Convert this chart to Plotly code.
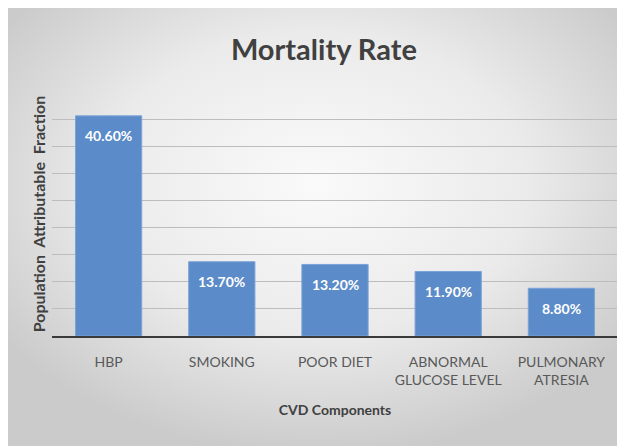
import base64
import plotly.graph_objects as go

categories = ["HBP", "SMOKING", "POOR DIET", "ABNORMAL<br>GLUCOSE LEVEL", "PULMONARY<br>ATRESIA"]
values = [40.6, 13.7, 13.2, 11.9, 8.8]
labels = ["40.60%", "13.70%", "13.20%", "11.90%", "8.80%"]

# page body has an 8px margin, so the figure is made slightly smaller
W, H = 617, 438
ML, MR, MT, MB = 44, 7, 84, 110
pw = W - ML - MR
ph = H - MT - MB

# background radial gradient (Excel-like)
svg = (
    '<svg xmlns="http://www.w3.org/2000/svg" width="617" height="438" preserveAspectRatio="none">'
    '<defs><radialGradient id="g" cx="50%" cy="40%" r="62%">'
    '<stop offset="0" stop-color="#fafafa"/>'
    '<stop offset="0.55" stop-color="#ebebeb"/>'
    '<stop offset="1" stop-color="#cbcbcb"/>'
    '</radialGradient></defs>'
    '<rect width="617" height="438" fill="url(#g)"/></svg>'
)
src = "data:image/svg+xml;base64," + base64.b64encode(svg.encode()).decode()

img = dict(
    source=src, xref="paper", yref="paper",
    x=-ML / pw, y=(H - MB) / ph,
    sizex=W / pw, sizey=H / ph,
    xanchor="left", yanchor="top", sizing="stretch", layer="below",
)

fig = go.Figure(
    go.Bar(
        x=categories, y=values,
        marker=dict(color="#5B8BC8", line=dict(color="#7aa3d6", width=1)),
        hoverinfo="skip",
    )
)

for c, v, t in zip(categories, values, labels):
    fig.add_annotation(
        x=c, y=v, text=t, showarrow=False, yanchor="middle", yshift=-20,
        font=dict(family="Lato", size=14, color="white", weight="bold"),
    )

fig.update_layout(
    width=W, height=H,
    margin=dict(l=ML, r=MR, t=MT, b=MB),
    paper_bgcolor="#dedede",
    plot_bgcolor="rgba(0,0,0,0)",
    images=[img],
    bargap=0.415,
    showlegend=False,
    title=dict(
        text="<b>Mortality Rate</b>", x=0.512, xanchor="center", y=1 - 42 / H, yanchor="middle",
        font=dict(family="Lato", size=29, color="#404040"),
    ),
    xaxis=dict(
        showgrid=False, showline=True, linecolor="#3a3a3a", linewidth=2,
        ticks="outside", ticklen=12, tickcolor="rgba(0,0,0,0)",
        tickfont=dict(family="Lato", size=14, color="#595959"),
        title=dict(text="<b>CVD Components</b>", standoff=18,
                   font=dict(family="Lato", size=14, color="#404040")),
    ),
    yaxis=dict(
        range=[0, 45], dtick=5, showticklabels=False, showgrid=True,
        gridcolor="#bdbdbd", gridwidth=1, zeroline=False,
        title=dict(text="<b>Population  Attributable  Fraction</b>", standoff=1,
                   font=dict(family="Lato", size=16, color="#404040")),
    ),
)

fig.write_html("out.html")
